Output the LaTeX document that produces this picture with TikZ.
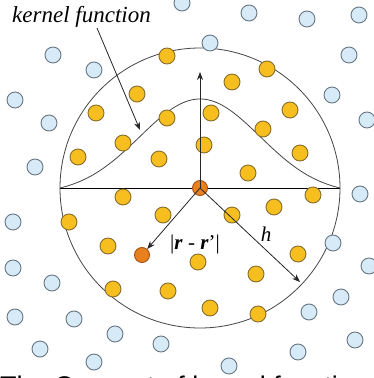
\documentclass[tikz,border=0pt]{standalone}
\usepackage{fontspec}
\setmainfont{Liberation Serif}
\setsansfont{Liberation Sans}
\usetikzlibrary{arrows.meta}
\definecolor{bluefill}{RGB}{214,234,248}
\definecolor{bluedraw}{RGB}{105,118,130}
\definecolor{yelfill}{RGB}{246,190,30}
\definecolor{yeldraw}{RGB}{135,110,45}
\definecolor{orfill}{RGB}{232,128,30}
\definecolor{ordraw}{RGB}{160,80,20}
\definecolor{linegray}{RGB}{70,70,70}
\tikzset{
  dot/.style={circle,inner sep=0pt,minimum size=16pt,line width=0.9pt},
  bdot/.style={dot,fill=bluefill,draw=bluedraw},
  ydot/.style={dot,fill=yelfill,draw=yeldraw},
  odot/.style={dot,fill=orfill,draw=ordraw,minimum size=15pt},
  thinline/.style={draw=linegray,line width=0.8pt},
  arr/.style={draw=black!85,line width=0.8pt,-{Stealth[length=8pt,width=6pt]}},
}
\begin{document}
\begin{tikzpicture}[x=1pt,y=-1pt]
\useasboundingbox (0,0) rectangle (374,378);
\fill[white] (0,0) rectangle (374,378);
% big circle, horizontal line, gaussian
\draw[thinline] (200,188) circle[radius=140pt];
\draw[line width=0.9pt,black] (60,188) -- (340,188);
\draw[thinline] plot[domain=60:340,samples=120,smooth]
  (\x,{188-89*(exp(-((\x-200)/60)^2/2)-0.0657)/(1-0.0657)});
% blue dots
\foreach \p [count=\i] in {(182,3),(53,55),(94,70),(15,100),(49,123),(35,167),
  (249,13),(307,19),(359,15),(210,43),(349,55),(332,95),(367,120),(360,194),
  (13,222),(13,268),(52,283),(15,317),(74,319),(115,334),(161,344),(40,349),(94,362),
  (333,243),(369,266),(341,297),(309,312),(355,340),(298,352),(229,366)}
  \node[bdot] (b\i) at \p {};
% yellow dots
\foreach \p [count=\i] in {(167,56),(137,94),(96,113),(167,118),(123,143),(78,157),(159,159),
  (267,69),(232,82),(211,113),(290,110),(263,129),(204,145),(300,153),(248,173),
  (123,197),(163,215),(69,222),(108,246),(113,289),(168,291),
  (313,195),(274,207),(232,215),(298,254),(198,262),(256,274),(210,308),(258,314)}
  \node[ydot] (y\i) at \p {};
% orange dots
\node[odot] (c) at (200,188) {};
\node[odot] (rp) at (142,255) {};
% coordinates
\coordinate (top) at (200,72);
\coordinate (hend) at (300,282);
\coordinate (kend) at (140,130);
\coordinate (kstart) at (97,28);
% labels
\node[font=\fontsize{23}{26}\selectfont\itshape,anchor=base west,inner sep=0pt] (klabel) at (12,22) {kernel function};
\node[font=\fontsize{21}{24}\selectfont,anchor=base,inner sep=0pt] (dist) at (195,249) {|\textbf{\textit{r}} - \textbf{\textit{r}}'|};
\node[font=\fontsize{21}{24}\selectfont\itshape,anchor=base,inner sep=0pt] (hl) at (266,241) {h};
\node[font=\fontsize{27}{30}\selectfont\sffamily,anchor=base west,inner sep=0pt] (cap) at (0,395) {The Concept of kernel function};
% arrows
\draw[arr] (c.center) -- (top);
\draw[arr] (c.center) -- (rp);
\draw[arr] (c.center) -- (hend);
\draw[arr] (kstart) -- (kend);
\end{tikzpicture}
\end{document}
